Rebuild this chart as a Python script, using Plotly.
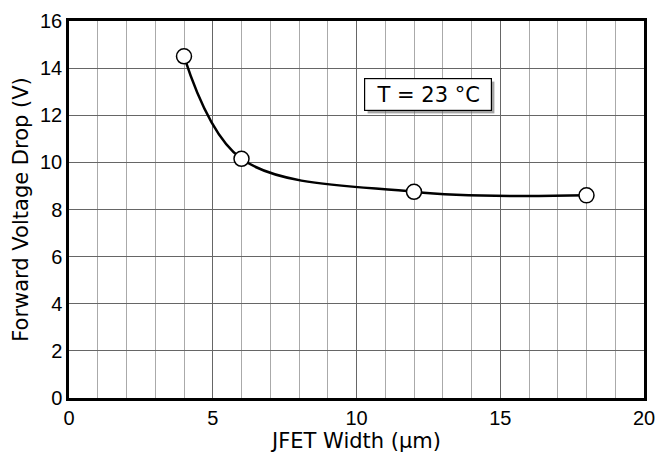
import plotly.graph_objects as go

width_um = [4, 6, 12, 18]
voltage_v = [14.5, 10.15, 8.75, 8.6]
x_ticks = [0, 5, 10, 15, 20]
y_ticks = [0, 2, 4, 6, 8, 10, 12, 14, 16]
label_text = "T = 23 °C"
label_pos = (12.5, 12.9)

fig = go.Figure()
fig.add_trace(go.Scatter(
    x=width_um, y=voltage_v, mode="lines+markers",
    line=dict(color="black", width=2.5, shape="spline", smoothing=1.0),
    marker=dict(size=15, color="white", line=dict(color="black", width=1.5)),
    showlegend=False, cliponaxis=False,
))

# shadow of the label box (no text, just a shaded box)
fig.add_annotation(
    x=label_pos[0], y=label_pos[1], xref="x", yref="y", text=" ", showarrow=False,
    width=120, height=25, font=dict(size=4),
    bgcolor="rgba(90,90,90,0.55)", borderwidth=1.2, bordercolor="rgba(0,0,0,0)",
    borderpad=3, xshift=3, yshift=-3,
)
fig.add_annotation(
    x=label_pos[0], y=label_pos[1], xref="x", yref="y", text=label_text, showarrow=False,
    width=120, height=25,
    font=dict(family="DejaVu Sans", size=21, color="black"),
    bgcolor="white", bordercolor="black", borderwidth=1.2, borderpad=3,
)

fig.update_layout(
    width=665, height=458,
    margin=dict(l=69, r=10, t=14, b=60),
    paper_bgcolor="white", plot_bgcolor="white",
    font=dict(family="Liberation Sans, Arial", size=20, color="black"),
)
fig.update_xaxes(
    range=[0, 20], tickvals=x_ticks, ticks="", showline=True, linecolor="black",
    linewidth=2.5, mirror=True, showgrid=True, gridcolor="#666", gridwidth=1.2,
    minor=dict(dtick=1, showgrid=True, gridcolor="#aaaaaa", gridwidth=1.2),
    zeroline=False,
    title=dict(text="JFET Width (μm)", font=dict(family="DejaVu Sans", size=21), standoff=0),
)
fig.update_yaxes(
    range=[0, 16], tickvals=y_ticks, ticks="", showline=True, linecolor="black",
    linewidth=2.5, mirror=True, showgrid=True, gridcolor="#666", gridwidth=1.2,
    zeroline=False,
    title=dict(text="Forward Voltage Drop (V)", font=dict(family="DejaVu Sans", size=21), standoff=6),
)

fig.write_html("out.html")
